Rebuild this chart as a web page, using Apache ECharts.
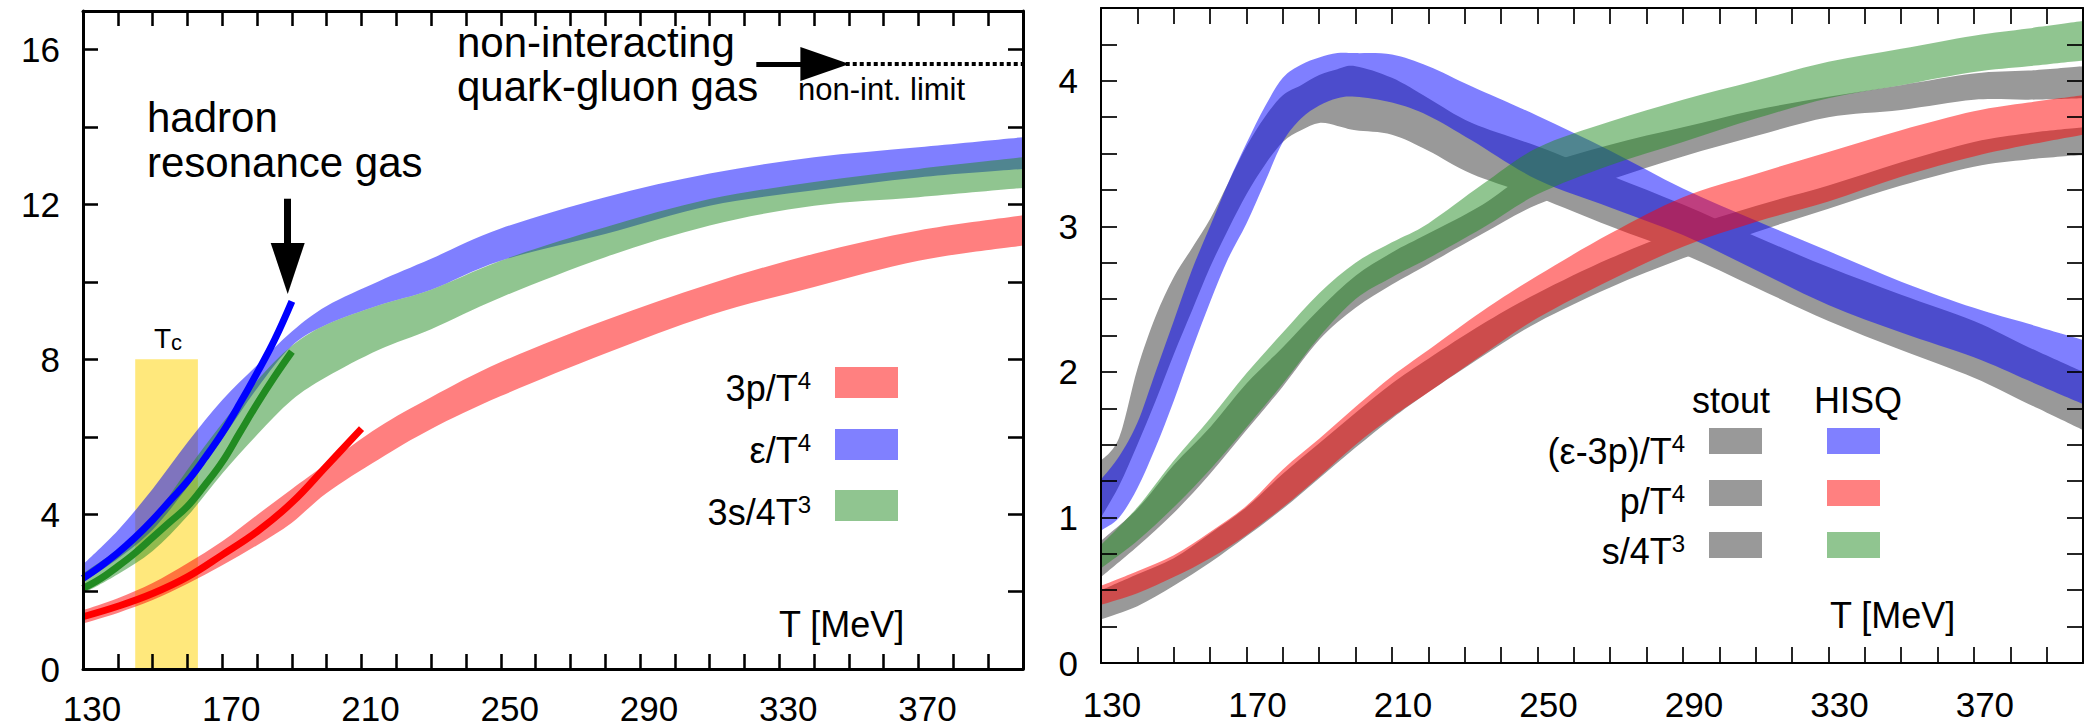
<!DOCTYPE html>
<html><head><meta charset="utf-8">
<script src="https://cdn.jsdelivr.net/npm/echarts@6/dist/echarts.min.js"></script>
<style>html,body{margin:0;padding:0;background:#fff;}#c{width:2084px;height:728px;}</style>
</head><body><div id="c"></div>
<script>
// ---------- tick labels ----------
const xTickLabels = [130, 170, 210, 250, 290, 330, 370];
const yTickLabelsLeft = [0, 4, 8, 12, 16];
const yTickLabelsRight = [0, 1, 2, 3, 4];

// ---------- left panel: HISQ bands (T in MeV) ----------
const tL   = [130, 140, 150, 160, 170, 180, 190, 200, 215, 230, 250, 280, 310, 340, 370, 400];
const p3Lo = [1.18, 1.45, 1.78, 2.20, 2.68, 3.20, 3.78, 4.55, 5.42, 6.20, 7.05, 8.15, 9.14, 9.87, 10.55, 10.94];
const p3Hi = [1.52, 1.83, 2.22, 2.73, 3.30, 3.98, 4.65, 5.30, 6.25, 7.02, 7.93, 9.01, 9.95, 10.73, 11.33, 11.72];
const eLo  = [2.25, 2.85, 3.60, 4.70, 5.95, 7.25, 8.35, 8.90, 9.40, 9.80, 10.55, 11.24, 11.97, 12.37, 12.70, 12.92];
const eHi  = [2.70, 3.58, 4.65, 5.85, 6.95, 7.85, 8.72, 9.38, 10.02, 10.60, 11.38, 12.19, 12.80, 13.22, 13.48, 13.74];
const s34Lo = [1.95, 2.45, 3.05, 3.95, 5.05, 6.05, 6.95, 7.55, 8.25, 8.78, 9.60, 10.64, 11.46, 11.97, 12.19, 12.43];
const s34Hi = [2.47, 3.10, 3.90, 5.15, 6.35, 7.45, 8.35, 8.90, 9.40, 9.80, 10.55, 11.41, 12.14, 12.58, 12.92, 13.22];

// ---------- left panel: hadron resonance gas curves ----------
const hrgT  = [130, 135, 140, 145, 150, 155, 160, 165, 170, 175, 180, 185, 190];
const hrgE  = [2.34, 2.65, 3.00, 3.40, 3.85, 4.35, 4.85, 5.45, 6.10, 6.85, 7.65, 8.50, 9.50];
const hrgS  = [2.08, 2.33, 2.65, 3.00, 3.40, 3.80, 4.20, 4.75, 5.35, 6.10, 6.85, 7.55, 8.20];
const hrgTp = [130, 140, 150, 160, 170, 180, 190, 200, 210];
const hrgP  = [1.35, 1.62, 1.95, 2.38, 2.95, 3.55, 4.30, 5.25, 6.21];

const tcRange = [145, 163];
const tcTop = 8;
const sbLimit = 15.63;

// ---------- right panel: stout (gray) and HISQ bands ----------
const tR = [130, 135, 140, 145, 150, 155, 160, 165, 170, 175, 180, 185, 190, 195, 200, 210, 220, 232, 250, 270, 290, 310, 330, 350, 370, 385, 400];
const e3pHisqLo  = [0.91, 1.00, 1.20, 1.48, 1.80, 2.15, 2.48, 2.78, 3.02, 3.30, 3.58, 3.74, 3.83, 3.88, 3.89, 3.85, 3.76, 3.59, 3.32, 3.13, 2.94, 2.70, 2.46, 2.27, 2.10, 1.94, 1.78];
const e3pHisqHi  = [1.26, 1.42, 1.65, 2.00, 2.35, 2.70, 3.00, 3.30, 3.57, 3.82, 4.02, 4.11, 4.16, 4.19, 4.19, 4.18, 4.10, 3.96, 3.76, 3.52, 3.26, 3.04, 2.83, 2.62, 2.44, 2.33, 2.22];
const e3pStoutLo = [1.00, 1.22, 1.50, 1.80, 2.12, 2.42, 2.72, 2.98, 3.22, 3.42, 3.58, 3.66, 3.71, 3.69, 3.66, 3.63, 3.52, 3.36, 3.20, 3.00, 2.81, 2.58, 2.35, 2.15, 1.96, 1.78, 1.60];
const e3pStoutHi = [1.39, 1.55, 2.02, 2.38, 2.65, 2.85, 3.05, 3.30, 3.55, 3.75, 3.90, 3.97, 4.04, 4.08, 4.10, 4.02, 3.88, 3.71, 3.55, 3.35, 3.15, 2.93, 2.72, 2.53, 2.35, 2.17, 2.00];

const tR2 = [130, 140, 150, 160, 170, 180, 190, 200, 210, 220, 235, 250, 270, 290, 310, 330, 350, 370, 385, 400];
const pHisqLo  = [0.40, 0.48, 0.59, 0.72, 0.88, 1.07, 1.28, 1.50, 1.69, 1.86, 2.12, 2.37, 2.63, 2.86, 3.03, 3.17, 3.34, 3.48, 3.56, 3.63];
const pHisqHi  = [0.53, 0.63, 0.74, 0.90, 1.08, 1.33, 1.54, 1.76, 1.97, 2.15, 2.42, 2.66, 2.95, 3.20, 3.36, 3.51, 3.66, 3.79, 3.85, 3.90];
const pStoutLo = [0.30, 0.39, 0.53, 0.69, 0.87, 1.06, 1.27, 1.48, 1.68, 1.86, 2.11, 2.34, 2.58, 2.78, 2.96, 3.12, 3.28, 3.41, 3.46, 3.49];
const pStoutHi = [0.50, 0.61, 0.72, 0.89, 1.07, 1.30, 1.51, 1.72, 1.92, 2.09, 2.33, 2.54, 2.78, 2.98, 3.14, 3.28, 3.44, 3.58, 3.64, 3.68];
const sHisqLo  = [0.65, 0.84, 1.07, 1.33, 1.62, 1.92, 2.24, 2.50, 2.65, 2.78, 2.99, 3.22, 3.42, 3.58, 3.74, 3.88, 3.97, 4.06, 4.10, 4.14];
const sHisqHi  = [0.81, 1.07, 1.39, 1.68, 1.99, 2.27, 2.54, 2.75, 2.89, 3.02, 3.29, 3.54, 3.72, 3.87, 4.00, 4.13, 4.22, 4.31, 4.36, 4.41];
const sStoutLo = [0.59, 0.80, 1.03, 1.30, 1.60, 1.90, 2.22, 2.44, 2.60, 2.74, 2.95, 3.15, 3.32, 3.48, 3.62, 3.75, 3.80, 3.87, 3.87, 3.88];
const sStoutHi = [0.84, 1.06, 1.36, 1.62, 1.92, 2.17, 2.43, 2.66, 2.82, 2.95, 3.15, 3.40, 3.56, 3.68, 3.80, 3.89, 3.97, 4.05, 4.07, 4.10];

// ---------- helpers ----------
const FONT = '"Liberation Sans", Arial, Helvetica, sans-serif';
const pairs = (xs, ys) => xs.map((x, i) => [x, ys[i]]);

function crPath(pts, cmd) {
  let s = cmd + pts[0][0].toFixed(2) + ' ' + pts[0][1].toFixed(2);
  for (let i = 0; i < pts.length - 1; i++) {
    const p0 = pts[Math.max(i - 1, 0)], p1 = pts[i], p2 = pts[i + 1], p3 = pts[Math.min(i + 2, pts.length - 1)];
    const c = [p1[0] + (p2[0] - p0[0]) / 6, p1[1] + (p2[1] - p0[1]) / 6,
               p2[0] - (p3[0] - p1[0]) / 6, p2[1] - (p3[1] - p1[1]) / 6, p2[0], p2[1]];
    s += ' C' + c.map(v => v.toFixed(2)).join(' ');
  }
  return s;
}
function band(name, ax, T, lo, hi, color, z) {
  return {
    name: name, type: 'custom', xAxisIndex: ax, yAxisIndex: ax, z: z, clip: true, silent: true,
    data: [[T[0], lo[0]]],
    renderItem: function (params, api) {
      const up = T.map((t, i) => api.coord([t, hi[i]]));
      const dn = T.map((t, i) => api.coord([t, lo[i]])).reverse();
      const d = crPath(up, 'M') + ' ' + crPath(dn, 'L') + ' Z';
      return { type: 'path', shape: { pathData: d }, style: { fill: color, stroke: null } };
    }
  };
}
function xAxisDef(grid, pos, lw, tl, showLabel, margin, padL) {
  return {
    gridIndex: grid, type: 'value', position: pos, min: 130, max: 400, interval: 10, z: 20,
    axisLine: { show: true, onZero: false, lineStyle: { color: '#000', width: lw } },
    axisTick: { show: true, inside: true, length: tl, lineStyle: { color: '#000', width: lw * 0.85 } },
    axisLabel: { show: showLabel, margin: margin, fontSize: 35, color: '#000', fontFamily: FONT,
      padding: [0, 0, 0, padL],
      formatter: v => xTickLabels.includes(Math.round(v)) ? String(Math.round(v)) : '' },
    splitLine: { show: false }
  };
}
function yAxisDef(grid, pos, lw, tl, max, interval, labels, showLabel) {
  return {
    gridIndex: grid, type: 'value', position: pos, min: 0, max: max, interval: interval, z: 20,
    axisLine: { show: true, onZero: false, lineStyle: { color: '#000', width: lw } },
    axisTick: { show: true, inside: true, length: tl, lineStyle: { color: '#000', width: lw * 0.85 } },
    axisLabel: { show: showLabel, margin: 23, fontSize: 35, color: '#000', fontFamily: FONT,
      padding: [13, 0, 0, 0],
      formatter: v => { const r = Math.round(v * 1000) / 1000; return labels.includes(r) ? String(r) : ''; } },
    splitLine: { show: false }
  };
}
function txt(x, y, text, size, align, valign, extra) {
  return { type: 'text', x: x, y: y, z: 100, silent: true,
    style: Object.assign({ text: text, fill: '#000', fontSize: size, fontFamily: FONT,
      align: align, textAlign: align, verticalAlign: valign, textVerticalAlign: valign }, extra || {}) };
}
function supText(x, y, main, sup, size, supSize) {
  return txt(x, y, '{m|' + main + '}{s|' + sup + '}', size, 'right', 'middle', {
    rich: { m: { fontSize: size, lineHeight: 40, fontFamily: FONT, fill: '#000', color: '#000' },
            s: { fontSize: supSize, lineHeight: supSize, fontFamily: FONT, fill: '#000', color: '#000', verticalAlign: 'top' } } });
}
function rect(x, y, w, h, color) {
  return { type: 'rect', z: 100, silent: true, shape: { x: x, y: y, width: w, height: h }, style: { fill: color } };
}

const RED = 'rgba(255,0,0,0.5)', BLUE = 'rgba(0,0,255,0.5)', GREEN = 'rgba(34,139,34,0.5)', GRAY = '#999999';

const chart = echarts.init(document.getElementById('c'), null, { renderer: 'svg', width: 2084, height: 728 });
chart.setOption({
  animation: false,
  backgroundColor: '#fff',
  grid: [
    { left: 83, top: 11, width: 940, height: 658, outerBoundsMode: 'none', containLabel: false },
    { left: 1101, top: 8, width: 982, height: 655, outerBoundsMode: 'none', containLabel: false }
  ],
  xAxis: [
    xAxisDef(0, 'bottom', 3, 15, true, 22, 18),
    xAxisDef(0, 'top', 3, 15, false, 22, 0),
    xAxisDef(1, 'bottom', 2, 16, true, 24, 22),
    xAxisDef(1, 'top', 2, 16, false, 24, 0)
  ],
  yAxis: [
    yAxisDef(0, 'left', 3, 15, 17, 2, yTickLabelsLeft, true),
    yAxisDef(0, 'right', 3, 15, 17, 2, yTickLabelsLeft, false),
    yAxisDef(1, 'left', 2, 16, 4.5, 0.25, yTickLabelsRight, true),
    yAxisDef(1, 'right', 2, 16, 4.5, 0.25, yTickLabelsRight, false)
  ],
  series: [
    // Tc band
    { type: 'line', xAxisIndex: 0, yAxisIndex: 0, z: 1, data: [[tcRange[0], 0]], showSymbol: false,
      lineStyle: { opacity: 0 }, silent: true,
      markArea: { silent: true, itemStyle: { color: '#FFE87C' },
        data: [[{ coord: [tcRange[0], 0] }, { coord: [tcRange[1], tcTop] }]] } },
    band('3p/T4', 0, tL, p3Lo, p3Hi, RED, 2),
    band('e/T4', 0, tL, eLo, eHi, BLUE, 3),
    band('3s/4T3', 0, tL, s34Lo, s34Hi, GREEN, 4),
    { type: 'line', xAxisIndex: 0, yAxisIndex: 0, z: 6, data: pairs(hrgT, hrgE), smooth: 0.4, showSymbol: false, silent: true,
      lineStyle: { color: '#0000ff', width: 7, cap: 'butt' } },
    { type: 'line', xAxisIndex: 0, yAxisIndex: 0, z: 7, data: pairs(hrgT, hrgS), smooth: 0.4, showSymbol: false, silent: true,
      lineStyle: { color: '#228B22', width: 7, cap: 'butt' } },
    { type: 'line', xAxisIndex: 0, yAxisIndex: 0, z: 6, data: pairs(hrgTp, hrgP), smooth: 0.4, showSymbol: false, silent: true,
      lineStyle: { color: '#ff0000', width: 7, cap: 'butt' } },
    // arrows and non-interacting limit
    { type: 'line', xAxisIndex: 0, yAxisIndex: 0, z: 10, data: [[tcRange[0], 0]], showSymbol: false,
      lineStyle: { opacity: 0 }, silent: true,
      markLine: { silent: true, animation: false, label: { show: false },
        data: [
          [{ coord: [188.8, 12.15], symbol: 'none', lineStyle: { color: '#000', width: 7, type: 'solid' } },
           { coord: [188.8, 10.35], symbol: 'triangle', symbolSize: [34, 51] }],
          [{ coord: [323.4, sbLimit], symbol: 'none', lineStyle: { color: '#000', width: 5, type: 'solid' } },
           { coord: [343.1, sbLimit], symbol: 'triangle', symbolSize: [34, 49] }],
          [{ coord: [333, sbLimit], symbol: 'none', lineStyle: { color: '#000', width: 4, type: [4, 3] } },
           { coord: [400, sbLimit], symbol: 'none' }]
        ] } },
    // right panel
    band('stout p', 2, tR2, pStoutLo, pStoutHi, GRAY, 2),
    band('stout s', 2, tR2, sStoutLo, sStoutHi, GRAY, 2),
    band('stout e-3p', 2, tR, e3pStoutLo, e3pStoutHi, GRAY, 2),
    band('HISQ e-3p', 2, tR, e3pHisqLo, e3pHisqHi, BLUE, 3),
    band('HISQ p', 2, tR2, pHisqLo, pHisqHi, RED, 4),
    band('HISQ s', 2, tR2, sHisqLo, sHisqHi, GREEN, 5)
  ],
  graphic: [
    txt(147, 95, 'hadron\nresonance gas', 42, 'left', 'top', { lineHeight: 45 }),
    txt(457, 20, 'non-interacting\nquark-gluon gas', 42, 'left', 'top', { lineHeight: 44 }),
    txt(798, 89, 'non-int. limit', 31, 'left', 'middle'),
    txt(168, 323, '{a|T}{b|c}', 28, 'center', 'top', {
      rich: { a: { fontSize: 28, lineHeight: 30, fontFamily: FONT, fill: '#000', color: '#000' },
              b: { fontSize: 22, lineHeight: 13, fontFamily: FONT, fill: '#000', color: '#000', verticalAlign: 'bottom' } } }),
    txt(779, 624, 'T [MeV]', 36, 'left', 'middle'),
    txt(1830, 615, 'T [MeV]', 36, 'left', 'middle'),
    // left legend
    supText(811, 388, '3p/T', '4', 36, 24),
    supText(811, 450, 'ε/T', '4', 36, 24),
    supText(811, 512, '3s/4T', '3', 36, 24),
    rect(835, 367, 63, 31, '#FF8080'),
    rect(835, 429, 63, 31, '#8080FF'),
    rect(835, 490, 63, 31, '#90C590'),
    // right legend
    txt(1692, 400, 'stout', 36, 'left', 'middle'),
    txt(1814, 400, 'HISQ', 36, 'left', 'middle'),
    supText(1685, 451, '(ε-3p)/T', '4', 36, 24),
    supText(1685, 501, 'p/T', '4', 36, 24),
    supText(1685, 551, 's/4T', '3', 36, 24),
    rect(1709, 428, 53, 26, GRAY), rect(1827, 428, 53, 26, '#8080FF'),
    rect(1709, 480, 53, 26, GRAY), rect(1827, 480, 53, 26, '#FF8080'),
    rect(1709, 532, 53, 26, GRAY), rect(1827, 532, 53, 26, '#90C590')
  ]
});
</script></body></html>
